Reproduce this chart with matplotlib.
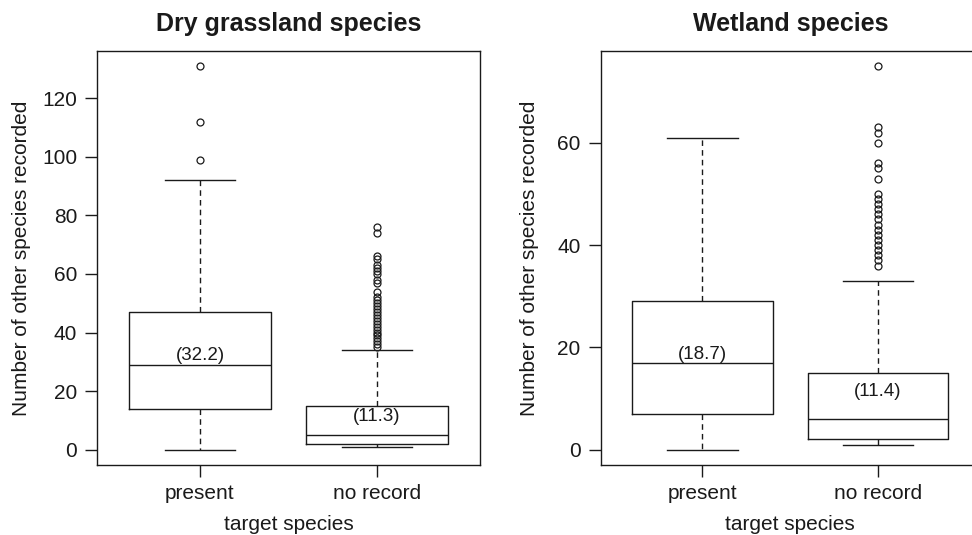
import numpy as np
import matplotlib
matplotlib.use('Agg')
import matplotlib.pyplot as plt

plt.rcParams['font.family'] = ['Liberation Sans', 'DejaVu Sans']

# values (R-style boxplots)
groups = ['present', 'no record']

dry_whislo = [0, 1]
dry_q1 = [14, 2]
dry_med = [29, 5]
dry_q3 = [47, 15]
dry_whishi = [92, 34]
dry_mean = [32.2, 11.3]
dry_fliers_present = [99, 112, 131]
dry_fliers_norecord = [35, 36, 37, 38, 39, 40, 41, 42, 43, 44, 45, 46, 47, 48, 49,
                       50, 51, 52, 54, 57, 58, 60, 61, 62, 63, 65, 66, 74, 76]

wet_whislo = [0, 1]
wet_q1 = [7, 2]
wet_med = [17, 6]
wet_q3 = [29, 15]
wet_whishi = [61, 33]
wet_mean = [18.7, 11.4]
wet_fliers_present = []
wet_fliers_norecord = [36, 37, 38, 39, 40, 41, 42, 43, 44, 45, 46, 47, 48, 49, 50,
                       53, 55, 56, 60, 62, 63, 75]

titles = ['Dry grassland species', 'Wetland species']
dry_ticks = [0, 20, 40, 60, 80, 100, 120]
wet_ticks = [0, 20, 40, 60]

W, H = 972, 535
INK = '#1a1a1a'


def make_stats(whislo, q1, med, q3, whishi, fliers):
    out = []
    for i in range(len(med)):
        out.append(dict(whislo=whislo[i], q1=q1[i], med=med[i], q3=q3[i],
                        whishi=whishi[i], fliers=np.array(fliers[i])))
    return out


def draw_panel(ax, stats, means, title, yticks):
    line = dict(color=INK, linewidth=1.0)
    ax.bxp(stats, positions=[1, 2], widths=0.8, showfliers=True,
           boxprops=line, medianprops=line, capprops=line,
           whiskerprops=dict(color=INK, linewidth=1.0, linestyle=(0, (4, 3))),
           flierprops=dict(marker='o', markersize=5, markerfacecolor='none',
                           markeredgecolor=INK, markeredgewidth=0.9))
    for i, m in enumerate(means):
        ax.text(i + 1, m, '(%.1f)' % m, ha='center', va='center',
                fontsize=13.5, color=INK)

    # R-like 4% axis extension
    lo = min(s['whislo'] for s in stats)
    hi = max([s['whishi'] for s in stats] + [f for s in stats for f in s['fliers']])
    pad = (hi - lo) * 0.04
    ax.set_ylim(lo - pad, hi + pad)
    ax.set_xlim(0.42, 2.58)

    ax.set_xticks([1, 2])
    ax.set_xticklabels(groups)
    ax.set_yticks(yticks)
    ax.tick_params(axis='both', direction='out', length=8.5, width=1.0,
                   labelsize=15, color=INK, labelcolor=INK)
    ax.tick_params(axis='x', pad=5)
    ax.tick_params(axis='y', pad=6)
    for sp in ax.spines.values():
        sp.set_linewidth(1.0)
        sp.set_color(INK)
    ax.set_xlabel('target species', fontsize=15, labelpad=8.5, color=INK)
    ax.set_title(title, fontsize=18, fontweight='bold', pad=14, color=INK)


fig = plt.figure(figsize=(W / 100, H / 100), dpi=100)
ax1 = fig.add_axes([97.3 / W, 70 / H, 382.4 / W, 414.3 / H])
ax2 = fig.add_axes([600.7 / W, 70 / H, 379.1 / W, 414.3 / H])

dry_stats = make_stats(dry_whislo, dry_q1, dry_med, dry_q3, dry_whishi,
                       [dry_fliers_present, dry_fliers_norecord])
wet_stats = make_stats(wet_whislo, wet_q1, wet_med, wet_q3, wet_whishi,
                       [wet_fliers_present, wet_fliers_norecord])

draw_panel(ax1, dry_stats, dry_mean, titles[0], dry_ticks)
draw_panel(ax2, wet_stats, wet_mean, titles[1], wet_ticks)

ax1.set_ylabel('Number of other species recorded', fontsize=15, color=INK)
ax2.set_ylabel('Number of other species recorded', fontsize=15, color=INK)
ax1.yaxis.set_label_coords((31 - 97.3) / 382.4, 0.5)
ax2.yaxis.set_label_coords((539 - 600.7) / 379.1, 0.5)

fig.savefig('out.png', dpi=100)
